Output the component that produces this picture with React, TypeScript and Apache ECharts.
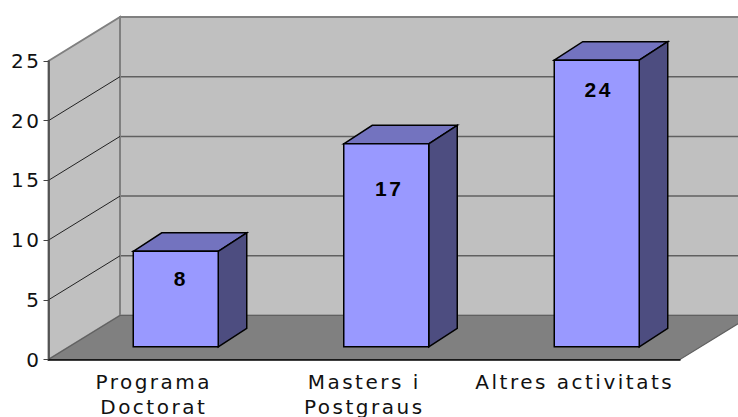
import React, { useEffect, useRef } from "react";
import * as echarts from "echarts";

const categories = ["Programa\nDoctorat", "Masters i\nPostgraus", "Altres activitats"];
const values = [8, 17, 24];
const yTicks = [0, 5, 10, 15, 20, 25];
const innerTicks = yTicks.slice(1, 5);
// where each value label sits relative to the top front corner of its bar
const labelShiftX = [5, 3, 2];
const labelShiftY = [27, 45, 29];

// 3D projection, in pixels
const DEPTH_X = 71.5;
const DEPTH_Y = -44;
const BAR_WIDTH = 85;
const BAR_SHIFT_X = 22;
const BAR_SHIFT_Y = -12.7;
const BAR_DEPTH_X = 28.5;
const BAR_DEPTH_Y = -18.5;

const poly = (points: number[][], fill: string, stroke: string, lineWidth: number) => ({
  type: "polygon",
  shape: { points },
  style: { fill, stroke, lineWidth },
});

export default function App() {
  const ref = useRef<HTMLDivElement>(null);
  useEffect(() => {
    document.body.style.margin = "0";
    const chart = echarts.init(ref.current!, undefined, { renderer: "svg" });
    chart.setOption({
      animation: false,
      backgroundColor: "#ffffff",
      grid: { left: 48.5, top: 61, width: 631.5, height: 298.5, containLabel: false, outerBoundsMode: "none" },
      xAxis: {
        type: "category",
        data: categories,
        z: 5,
        axisLine: { lineStyle: { color: "#000000", width: 1.5 } },
        axisTick: { length: 5, lineStyle: { color: "#444444" } },
        axisLabel: {
          interval: 0,
          color: "#111111",
          fontFamily: "DejaVu Sans",
          fontSize: 20,
          lineHeight: 25,
          margin: 10,
          hideOverlap: false,
        },
      },
      yAxis: {
        type: "value",
        min: 0,
        max: 25,
        interval: 5,
        z: 5,
        axisLine: { show: true, lineStyle: { color: "#444444", width: 1.5 } },
        axisTick: { show: true, length: 5, lineStyle: { color: "#444444" } },
        splitLine: { show: false },
        axisLabel: {
          color: "#111111",
          fontFamily: "DejaVu Sans",
          fontSize: 20,
          margin: 7,
        },
      },
      series: [
        {
          type: "custom",
          name: "walls",
          silent: true,
          z: 1,
          data: [[0, 0]],
          renderItem: (params: any) => {
            const g = params.coordSys;
            const l = g.x, r = g.x + g.width, t = g.y, b = g.y + g.height;
            const edge = "#808080";
            return {
              type: "group",
              children: [
                poly([[l + DEPTH_X, t + DEPTH_Y], [r + DEPTH_X, t + DEPTH_Y], [r + DEPTH_X, b + DEPTH_Y], [l + DEPTH_X, b + DEPTH_Y]], "#c0c0c0", edge, 2),
                poly([[l, t], [l + DEPTH_X, t + DEPTH_Y], [l + DEPTH_X, b + DEPTH_Y], [l, b]], "#c0c0c0", edge, 2),
                poly([[l, b], [l + DEPTH_X, b + DEPTH_Y], [r + DEPTH_X, b + DEPTH_Y], [r, b]], "#808080", "#606060", 1.2),
              ],
            };
          },
        },
        {
          type: "custom",
          name: "gridlines",
          silent: true,
          z: 2,
          data: innerTicks.map((t) => [0, t]),
          renderItem: (params: any, api: any) => {
            const g = params.coordSys;
            const y = api.coord([0, api.value(1)])[1];
            const l = g.x, r = g.x + g.width;
            return {
              type: "group",
              children: [
                { type: "line", shape: { x1: l, y1: y, x2: l + DEPTH_X, y2: y + DEPTH_Y }, style: { stroke: "#222222", lineWidth: 1 } },
                { type: "line", shape: { x1: l + DEPTH_X + 1, y1: y + DEPTH_Y, x2: r + DEPTH_X, y2: y + DEPTH_Y }, style: { stroke: "#606060", lineWidth: 1.5 } },
              ],
            };
          },
        },
        {
          type: "custom",
          name: "values",
          z: 3,
          data: values.map((v, i) => [i, v]),
          renderItem: (params: any, api: any) => {
            const idx = api.value(0);
            const top = api.coord([idx, api.value(1)]);
            const base = api.coord([idx, 0]);
            const x0 = top[0] - BAR_WIDTH / 2 + BAR_SHIFT_X;
            const x1 = x0 + BAR_WIDTH;
            const y0 = top[1] + BAR_SHIFT_Y;
            const y1 = base[1] + BAR_SHIFT_Y;
            const dx = BAR_DEPTH_X, dy = BAR_DEPTH_Y;
            return {
              type: "group",
              children: [
                poly([[x0, y0], [x0 + dx, y0 + dy], [x1 + dx, y0 + dy], [x1, y0]], "#7373bf", "#000000", 1.5),
                poly([[x1, y0], [x1 + dx, y0 + dy], [x1 + dx, y1 + dy], [x1, y1]], "#4d4d80", "#000000", 1.5),
                poly([[x0, y0], [x1, y0], [x1, y1], [x0, y1]], "#9999ff", "#000000", 1.5),
                {
                  type: "text",
                  x: (x0 + x1) / 2 + labelShiftX[idx],
                  y: y0 + labelShiftY[idx],
                  style: {
                    text: String(api.value(1)),
                    fill: "#000000",
                    fontFamily: "Liberation Sans",
                    fontWeight: "bold",
                    fontSize: 21,
                    align: "center",
                    verticalAlign: "middle",
                  },
                },
              ],
            };
          },
        },
      ],
    });
    return () => chart.dispose();
  }, []);
  return <div ref={ref} style={{ width: 738, height: 417, letterSpacing: "2.5px" }} />;
}
